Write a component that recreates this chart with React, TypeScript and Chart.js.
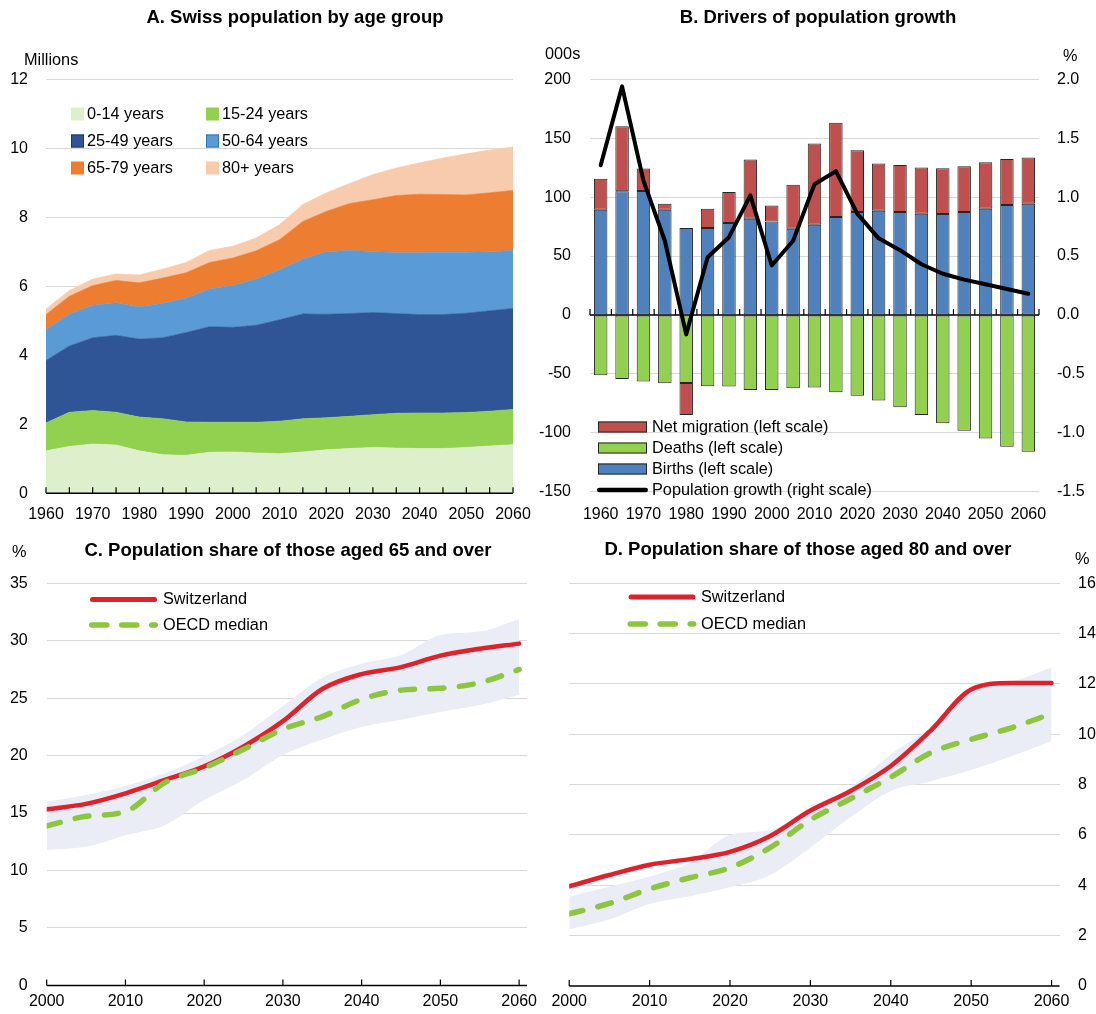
import React, { useEffect, useRef } from "react";
import { Chart, registerables } from "chart.js";

Chart.register(...registerables);

const FONT = "'Liberation Sans', Arial, Helvetica, sans-serif";
const W = 1096;
const H = 1014;

// ---------------- Panel A: Swiss population by age group (millions) ----------------
const yearsA = ["1960", "1965", "1970", "1975", "1980", "1985", "1990", "1995", "2000", "2005", "2010",
  "2015", "2020", "2025", "2030", "2035", "2040", "2045", "2050", "2055", "2060"];
const age0_14 = [1.23, 1.36, 1.43, 1.40, 1.23, 1.12, 1.10, 1.19, 1.20, 1.17, 1.15, 1.20, 1.26, 1.30, 1.33, 1.31, 1.30, 1.30, 1.33, 1.37, 1.41];
const age15_24 = [0.81, 0.99, 0.97, 0.95, 0.98, 1.04, 0.97, 0.87, 0.86, 0.89, 0.94, 0.96, 0.93, 0.93, 0.95, 1.01, 1.03, 1.03, 1.01, 1.01, 1.02];
const age25_49 = [1.81, 1.92, 2.11, 2.23, 2.26, 2.35, 2.59, 2.77, 2.75, 2.81, 2.94, 3.04, 3.00, 2.98, 2.96, 2.89, 2.85, 2.85, 2.88, 2.91, 2.93];
const age50_64 = [0.90, 0.92, 0.94, 0.94, 0.93, 1.00, 1.00, 1.09, 1.21, 1.34, 1.45, 1.59, 1.81, 1.83, 1.77, 1.76, 1.79, 1.81, 1.77, 1.71, 1.68];
const age65_79 = [0.43, 0.52, 0.57, 0.65, 0.70, 0.73, 0.73, 0.77, 0.80, 0.82, 0.87, 1.09, 1.17, 1.36, 1.50, 1.66, 1.70, 1.67, 1.66, 1.71, 1.74];
const age80plus = [0.16, 0.17, 0.19, 0.19, 0.23, 0.26, 0.30, 0.35, 0.34, 0.37, 0.44, 0.49, 0.54, 0.58, 0.73, 0.80, 0.91, 1.06, 1.19, 1.24, 1.26];

// ---------------- Panel B: Drivers of population growth ----------------
const yearsB = ["1960", "1965", "1970", "1975", "1980", "1985", "1990", "1995", "2000", "2005", "2010",
  "2015", "2020", "2025", "2030", "2035", "2040", "2045", "2050", "2055", "2060"];
const births = [89.3, 105, 105.2, 89.3, 73.7, 73.7, 78, 81.7, 79.4, 73.2, 76.6, 83.1, 87.4, 88.5, 87.4, 85.9, 85.6, 87.4, 90.2, 93.3, 94.4];
const deaths = [-51.1, -54.3, -56.5, -58, -57.7, -60.5, -60.8, -63.6, -63.6, -62.2, -61.6, -65.6, -68.5, -72.7, -78.4, -84.9, -92, -98.3, -104.8, -111.9, -116.2];
const netMigration = [26.4, 55.2, 19, 5.1, -27.2, 16.5, 26.4, 50.2, 13.6, 37.4, 68.9, 80, 52.4, 40, 39.9, 39.2, 38.9, 38.8, 39.4, 39.1, 39.2];
const popGrowth = [1.27, 1.94, 1.14, 0.63, -0.165, 0.49, 0.66, 1.015, 0.42, 0.63, 1.11, 1.22, 0.86, 0.65, 0.55, 0.43, 0.35, 0.30, 0.26, 0.22, 0.18];

// ---------------- Panels C & D: population shares (%) ----------------
const yearsCD = [2000, 2005, 2010, 2015, 2020, 2025, 2030, 2035, 2040, 2045, 2050, 2055, 2060];
const share65Swiss = [15.33, 15.8, 16.72, 17.88, 19.07, 20.8, 23.0, 25.8, 27.1, 27.7, 28.7, 29.3, 29.75];
const share65Oecd = [13.88, 14.72, 15.13, 17.65, 18.93, 20.55, 22.3, 23.4, 24.9, 25.7, 25.86, 26.35, 27.5];
const share65Low = [11.8, 12.06, 13.07, 13.94, 16.14, 17.88, 20.05, 21.4, 22.5, 23.13, 23.8, 24.4, 25.3];
const share65High = [16.0, 16.58, 17.36, 18.46, 19.97, 21.8, 24.3, 26.8, 28.0, 28.75, 30.5, 30.8, 31.9];
const share80Swiss = [3.96, 4.41, 4.82, 5.04, 5.33, 5.96, 6.97, 7.75, 8.74, 10.16, 11.78, 12.04, 12.04];
const share80Oecd = [2.87, 3.28, 3.86, 4.3, 4.7, 5.5, 6.6, 7.44, 8.3, 9.27, 9.8, 10.26, 10.82];
const share80Low = [2.25, 2.64, 3.26, 3.57, 3.92, 4.41, 5.5, 6.7, 7.75, 8.14, 8.58, 9.13, 9.73];
const share80High = [3.55, 3.95, 4.35, 4.9, 6.0, 6.2, 7.0, 7.9, 9.2, 10.3, 11.85, 12.1, 12.65];

// ---------------- colours ----------------
const C014 = "#DDEFCB";
const C1524 = "#92D050";
const C2549 = "#2F5597";
const C5064 = "#5B9BD5";
const C6579 = "#ED7D31";
const C80 = "#F8CBAD";
const CMIG = "#C0504D";
const CDEATH = "#92D050";
const CBIRTH = "#4F81BD";
const CRED = "#E0202A";
const CGREEN = "#8CC63F";
const CBAND = "#EAEDF5";
const GRID = "#D9D9D9";

// ---------------- tick font: narrow face if installed ----------------
function hasFont(name: string): boolean {
  try {
    const c = document.createElement("canvas").getContext("2d");
    if (!c) return false;
    const s = "1960 2060 Millions";
    c.font = "72px monospace";
    const a = c.measureText(s).width;
    c.font = `72px '${name}', monospace`;
    const b = c.measureText(s).width;
    return Math.abs(a - b) > 1;
  } catch (e) {
    return false;
  }
}
const NARROW = hasFont("Liberation Sans Narrow");
const tickFont = NARROW ? { family: "'Liberation Sans Narrow', " + FONT, size: 19 } : { family: FONT, size: 16 };

// ---------------- decoration plugin (titles, unit labels, legends, axis line + inside ticks) ----------------
const decorPlugin: any = {
  id: "decor",
  afterDatasetsDraw(chart: any, _a: any, o: any) {
    if (!o || !o.axis) return;
    const { ctx, chartArea: area } = chart;
    const xs = chart.scales.x;
    const ys = chart.scales.y;
    const y0 = ys.getPixelForValue(0);
    const pos: number[] = [];
    if (o.axis.ticks === "all") {
      xs.ticks.forEach((_t: any, i: number) => pos.push(xs.getPixelForTick(i)));
    } else if (o.axis.ticks === "between") {
      pos.push(area.left);
      for (let i = 1; i < xs.ticks.length; i++) pos.push((xs.getPixelForValue(i - 1) + xs.getPixelForValue(i)) / 2);
      pos.push(area.right);
    } else {
      xs.ticks.forEach((t: any) => pos.push(xs.getPixelForValue(t.value)));
    }
    ctx.save();
    ctx.strokeStyle = "#000";
    ctx.lineWidth = 1.5;
    ctx.beginPath();
    ctx.moveTo(area.left, y0);
    ctx.lineTo(area.right, y0);
    ctx.stroke();
    ctx.lineWidth = 1.2;
    ctx.beginPath();
    pos.forEach((p) => {
      ctx.moveTo(p, y0);
      ctx.lineTo(p, y0 - o.axis.len);
    });
    ctx.stroke();
    ctx.restore();
  },
  afterDraw(chart: any, _a: any, o: any) {
    if (!o || !o.texts) return;
    const ctx = chart.ctx;
    ctx.save();
    ctx.textBaseline = "middle";
    ctx.fillStyle = "#000";
    for (const t of o.texts) {
      ctx.font = `${t.bold ? "bold " : ""}${t.size}px ${FONT}`;
      ctx.textAlign = t.align || "left";
      ctx.fillStyle = "#000";
      ctx.fillText(t.text, t.x, t.y);
    }
    for (const it of o.legend || []) {
      if (it.type === "box") {
        ctx.fillStyle = it.fill;
        ctx.fillRect(it.x, it.y - it.h / 2, it.w, it.h);
        if (it.stroke) {
          ctx.strokeStyle = it.stroke;
          ctx.lineWidth = 1;
          ctx.strokeRect(it.x + 0.5, it.y - it.h / 2 + 0.5, it.w - 1, it.h - 1);
        }
      } else {
        ctx.strokeStyle = it.color;
        ctx.lineWidth = it.lw;
        ctx.lineCap = "round";
        ctx.setLineDash(it.dash || []);
        ctx.beginPath();
        ctx.moveTo(it.x + it.lw / 2, it.y);
        ctx.lineTo(it.x + it.w - it.lw / 2, it.y);
        ctx.stroke();
        ctx.setLineDash([]);
      }
      ctx.font = `16.3px ${FONT}`;
      ctx.textAlign = "left";
      ctx.fillStyle = "#000";
      ctx.fillText(it.text, it.tx, it.y + 0.5);
    }
    ctx.restore();
  },
};
Chart.register(decorPlugin);

const fixW = (w: number) => (s: any) => { s.width = w; };
const fixH = (h: number) => (s: any) => { s.height = h; };
const gridColor = (c: any) => (c.tick && c.tick.value === 0 ? "rgba(0,0,0,0)" : GRID);
const basePlugins = { legend: { display: false }, tooltip: { enabled: false }, filler: { drawTime: "beforeDatasetsDraw" } };

function areaDs(label: string, data: number[], color: string, fill: any) {
  return { label, data, backgroundColor: color, borderColor: color, borderWidth: 0.6, fill, pointRadius: 0, tension: 0 };
}

function configA(): any {
  return {
    type: "line",
    data: {
      labels: yearsA,
      datasets: [
        areaDs("0-14 years", age0_14, C014, "origin"),
        areaDs("15-24 years", age15_24, C1524, "-1"),
        areaDs("25-49 years", age25_49, C2549, "-1"),
        areaDs("50-64 years", age50_64, C5064, "-1"),
        areaDs("65-79 years", age65_79, C6579, "-1"),
        areaDs("80+ years", age80plus, C80, "-1"),
      ],
    },
    options: {
      responsive: false, animation: false, devicePixelRatio: 1,
      layout: { padding: { left: 0, top: 79.3, right: W - 513, bottom: H - 493.3 - 40 } },
      plugins: {
        ...basePlugins,
        decor: {
          axis: { ticks: "all", len: 6 },
          texts: [
            { text: "A. Swiss population by age group", x: 295, y: 18, size: 18.5, bold: true, align: "center" },
            { text: "Millions", x: 24, y: 61, size: 16.3, align: "left" },
          ],
          legend: [
            { type: "box", x: 71, y: 114, w: 13, h: 13, fill: C014, text: "0-14 years", tx: 87 },
            { type: "box", x: 206, y: 114, w: 13, h: 13, fill: C1524, text: "15-24 years", tx: 222 },
            { type: "box", x: 71, y: 141, w: 13, h: 13, fill: C2549, stroke: "#1F3864", text: "25-49 years", tx: 87 },
            { type: "box", x: 206, y: 141, w: 13, h: 13, fill: C5064, stroke: "#2E75B6", text: "50-64 years", tx: 222 },
            { type: "box", x: 71, y: 168, w: 13, h: 13, fill: C6579, text: "65-79 years", tx: 87 },
            { type: "box", x: 206, y: 168, w: 13, h: 13, fill: C80, text: "80+ years", tx: 222 },
          ],
        },
      },
      scales: {
        x: {
          type: "category", offset: false,
          grid: { display: false, drawTicks: false }, border: { display: false },
          ticks: { autoSkip: false, maxRotation: 0, padding: 12, font: tickFont, color: "#000",
            callback: (_v: any, i: number) => (i % 2 === 0 ? yearsA[i] : "") },
          afterFit: fixH(40),
        },
        y: {
          stacked: true, min: 0, max: 12,
          ticks: { stepSize: 2, padding: 18, font: tickFont, color: "#000" },
          grid: { color: gridColor, drawTicks: false, lineWidth: 1 }, border: { display: false },
          afterFit: fixW(46),
        },
      },
    },
  };
}

function barDs(label: string, data: number[], color: string) {
  return { type: "bar", label, data, backgroundColor: color, borderColor: "#262626", borderWidth: 1, borderSkipped: false,
    barPercentage: 0.63, categoryPercentage: 1, yAxisID: "y", stack: "s" };
}

function configB(): any {
  return {
    type: "bar",
    data: {
      labels: yearsB,
      datasets: [
        barDs("Births (left scale)", births, CBIRTH),
        barDs("Deaths (left scale)", deaths, CDEATH),
        barDs("Net migration (left scale)", netMigration, CMIG),
        { type: "line", label: "Population growth (right scale)", data: popGrowth, yAxisID: "y1", borderColor: "#000",
          borderWidth: 4, pointRadius: 0, tension: 0, order: -1, borderCapStyle: "round", borderJoinStyle: "round" },
      ],
    },
    options: {
      responsive: false, animation: false, devicePixelRatio: 1,
      layout: { padding: { left: 520, top: 79.3, right: 0, bottom: H - 491.7 - 40 } },
      plugins: {
        ...basePlugins,
        decor: {
          axis: { ticks: "between", len: 6 },
          texts: [
            { text: "B. Drivers of population growth", x: 818, y: 18, size: 18.5, bold: true, align: "center" },
            { text: "000s", x: 545, y: 55, size: 16.3, align: "left" },
            { text: "%", x: 1063, y: 57, size: 16.3, align: "left" },
          ],
          legend: [
            { type: "box", x: 598, y: 427, w: 49, h: 11, fill: CMIG, stroke: "#262626", text: "Net migration (left scale)", tx: 652 },
            { type: "box", x: 598, y: 448, w: 49, h: 11, fill: CDEATH, stroke: "#262626", text: "Deaths (left scale)", tx: 652 },
            { type: "box", x: 598, y: 469, w: 49, h: 11, fill: CBIRTH, stroke: "#262626", text: "Births (left scale)", tx: 652 },
            { type: "line", x: 597, y: 490, w: 51, lw: 4.5, color: "#000", text: "Population growth (right scale)", tx: 652 },
          ],
        },
      },
      scales: {
        x: {
          type: "category", stacked: true, offset: true,
          grid: { display: false, drawTicks: false }, border: { display: false },
          ticks: { autoSkip: false, maxRotation: 0, padding: 13.5, font: tickFont, color: "#000",
            callback: (_v: any, i: number) => (i % 2 === 0 ? yearsB[i] : "") },
          afterFit: fixH(40),
        },
        y: {
          position: "left", stacked: true, min: -150, max: 200,
          ticks: { stepSize: 50, padding: 19, font: tickFont, color: "#000" },
          grid: { color: gridColor, drawTicks: false }, border: { display: false },
          afterFit: fixW(70),
        },
        y1: {
          position: "right", min: -1.5, max: 2.0,
          ticks: { stepSize: 0.5, padding: 18, font: tickFont, color: "#000", callback: (v: any) => Number(v).toFixed(1) },
          grid: { display: false, drawTicks: false }, border: { display: false },
          afterFit: fixW(W - 1039),
        },
      },
    },
  };
}

function shareDatasets(swiss: number[], oecd: number[], low: number[], high: number[]) {
  const pts = (arr: number[]) => arr.map((v, i) => ({ x: yearsCD[i], y: v }));
  return [
    { label: "OECD median", data: pts(oecd), borderColor: CGREEN, borderWidth: 5.5, borderDash: [14, 15.5],
      borderCapStyle: "round", pointRadius: 0, fill: false, cubicInterpolationMode: "monotone" },
    { label: "Switzerland", data: pts(swiss), borderColor: CRED, borderWidth: 4.5, borderCapStyle: "round",
      pointRadius: 0, fill: false, cubicInterpolationMode: "monotone" },
    { label: "low", data: pts(low), borderColor: "rgba(0,0,0,0)", borderWidth: 0, pointRadius: 0, fill: false,
      cubicInterpolationMode: "monotone" },
    { label: "high", data: pts(high), borderColor: "rgba(0,0,0,0)", borderWidth: 0, pointRadius: 0, fill: "-1",
      backgroundColor: CBAND, cubicInterpolationMode: "monotone" },
  ];
}

function configC(): any {
  return {
    type: "line",
    data: { datasets: shareDatasets(share65Swiss, share65Oecd, share65Low, share65High) },
    options: {
      responsive: false, animation: false, devicePixelRatio: 1,
      layout: { padding: { left: 0, top: 583.3, right: W - 527, bottom: H - 985.8 - 28 } },
      plugins: {
        ...basePlugins,
        decor: {
          axis: { ticks: "values", len: 6 },
          texts: [
            { text: "C. Population share of those aged 65 and over", x: 288, y: 551, size: 18.5, bold: true, align: "center" },
            { text: "%", x: 12, y: 553, size: 16.3, align: "left" },
          ],
          legend: [
            { type: "line", x: 90, y: 599.5, w: 67, lw: 5, color: CRED, text: "Switzerland", tx: 163 },
            { type: "line", x: 89, y: 625, w: 69, lw: 5.5, color: CGREEN, dash: [15, 15], text: "OECD median", tx: 163 },
          ],
        },
      },
      scales: {
        x: {
          type: "linear", min: 2000, max: 2061,
          grid: { display: false, drawTicks: false }, border: { display: false },
          ticks: { stepSize: 10, includeBounds: false, padding: 6.3, font: tickFont, color: "#000", maxRotation: 0,
            callback: (v: any) => String(v) },
          afterFit: fixH(28),
        },
        y: {
          min: 0, max: 35,
          ticks: { stepSize: 5, padding: 19, font: tickFont, color: "#000" },
          grid: { color: gridColor, drawTicks: false }, border: { display: false },
          afterFit: fixW(46.7),
        },
      },
    },
  };
}

function configD(): any {
  return {
    type: "line",
    data: { datasets: shareDatasets(share80Swiss, share80Oecd, share80Low, share80High) },
    options: {
      responsive: false, animation: false, devicePixelRatio: 1,
      layout: { padding: { left: 569.2, top: 583.3, right: 0, bottom: H - 987.3 - 26.7 } },
      plugins: {
        ...basePlugins,
        decor: {
          axis: { ticks: "values", len: 6 },
          texts: [
            { text: "D. Population share of those aged 80 and over", x: 808, y: 550, size: 18.5, bold: true, align: "center" },
            { text: "%", x: 1075, y: 560, size: 16.3, align: "left" },
          ],
          legend: [
            { type: "line", x: 628.5, y: 597, w: 67, lw: 5, color: CRED, text: "Switzerland", tx: 701 },
            { type: "line", x: 627.5, y: 624, w: 69, lw: 5.5, color: CGREEN, dash: [15, 15], text: "OECD median", tx: 701 },
          ],
        },
      },
      scales: {
        x: {
          type: "linear", min: 2000, max: 2061,
          grid: { display: false, drawTicks: false }, border: { display: false },
          ticks: { stepSize: 10, includeBounds: false, padding: 6, font: tickFont, color: "#000", maxRotation: 0,
            callback: (v: any) => String(v) },
          afterFit: fixH(26.7),
        },
        y: {
          position: "right", min: 0, max: 16,
          ticks: { stepSize: 2, padding: 18.4, font: tickFont, color: "#000" },
          grid: { color: gridColor, drawTicks: false }, border: { display: false },
          afterFit: fixW(W - 1059.6),
        },
      },
    },
  };
}

function Panel({ make }: { make: () => any }) {
  const ref = useRef<HTMLCanvasElement | null>(null);
  useEffect(() => {
    if (!ref.current) return;
    const chart = new Chart(ref.current, make());
    return () => chart.destroy();
  }, [make]);
  return (
    <canvas ref={ref} width={W} height={H}
      style={{ position: "absolute", left: 0, top: 0, width: W, height: H }} />
  );
}

export default function App() {
  useEffect(() => {
    document.body.style.margin = "0";
    Chart.defaults.font.family = FONT;
    Chart.defaults.color = "#000";
  }, []);
  return (
    <div style={{ position: "relative", width: W, height: H, background: "#fff", overflow: "hidden" }}>
      <Panel make={configA} />
      <Panel make={configB} />
      <Panel make={configC} />
      <Panel make={configD} />
    </div>
  );
}
